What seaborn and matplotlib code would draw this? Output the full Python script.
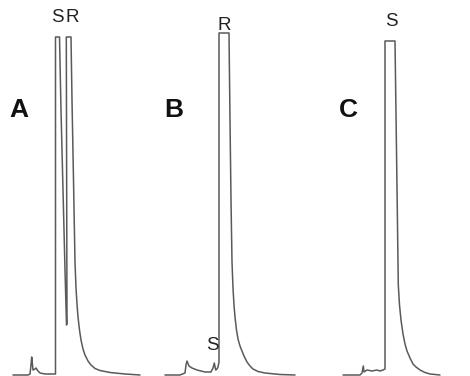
import matplotlib
matplotlib.use("Agg")
import matplotlib.pyplot as plt
import seaborn as sns
import pandas as pd

sns.set_theme(style="white")
plt.rcParams['font.family'] = ['Liberation Sans', 'DejaVu Sans']

# Chromatogram traces: retention position and recorder pen position (baseline at 375, read downward)
time_A = [13, 28, 30, 31, 31.7, 33, 35, 36, 38, 40, 45, 54, 55.5, 55.5, 59.5, 61, 63, 65, 66.5, 67, 66.3, 71,
          72, 73.5, 75, 76, 77, 78, 79.5, 81, 83, 85, 88, 91, 95, 100, 110, 125, 140]
level_A = [375, 375, 374, 365, 357, 370, 369, 368, 371, 373, 374, 374, 374, 37, 37, 110, 190, 270, 325, 323, 37, 37,
           100, 180, 262, 288, 304, 317, 330, 340, 349, 355, 361, 365, 368.5, 370.5, 372.5, 374, 375]

time_B = [165, 180, 185, 186, 187, 189, 192, 197, 205, 211, 213, 214.3, 215.7, 217, 218, 219, 219, 229,
          230, 231, 232, 233, 234, 235, 236.5, 238, 240, 242, 244, 247, 250, 253, 258, 265, 280, 295]
level_B = [375, 375, 373, 365, 361, 366, 368, 370, 372, 372, 368, 363, 370, 369, 367, 362, 33, 33,
           120, 200, 262, 288, 305, 317, 330, 339, 346, 351, 356, 362, 366, 369, 371.5, 373, 374.5, 375]

time_C = [343, 360, 362, 363.3, 364, 367, 372, 377, 380, 383, 385, 385, 395,
          396.5, 398.3, 399.5, 401, 403, 405, 407, 410, 413, 416, 420, 425, 430, 440]
level_C = [375, 375, 373, 366, 372, 370, 371, 370, 371, 370, 369, 41, 41,
           150, 285, 305, 320, 334, 344, 351, 358, 364, 367, 370, 372.5, 374, 375]

panel_labels = ["A", "B", "C"]
panel_label_x = [19, 174, 348.5]
peak_labels = ["S", "R", "R", "S", "S"]
peak_label_x = [57.5, 72.5, 224.5, 212.5, 391]
peak_label_y = [18, 18, 26, 345, 21]

fig = plt.figure(figsize=(4.7, 3.76), dpi=100)
ax = fig.add_axes([0, 0, 1, 1])

line_color = "#5a5a5a"
for t, lv in [(time_A, level_A), (time_B, level_B), (time_C, level_C)]:
    df = pd.DataFrame({"time": t, "signal": [375 - v for v in lv]})
    sns.lineplot(data=df, x="time", y="signal", sort=False, estimator=None,
                 color=line_color, linewidth=1.1, ax=ax)

for lab, x in zip(panel_labels, panel_label_x):
    ax.text(x, 375 - 110, lab, fontsize=19, fontweight="bold", ha="center", va="center", color="#111111")

for lab, x, y in zip(peak_labels, peak_label_x, peak_label_y):
    ax.text(x, 375 - y, lab, fontsize=13.5, ha="center", va="center", color="#222222")

ax.set_xlim(0, 470)
ax.set_ylim(-1, 375)
ax.axis("off")
fig.savefig("out.png", dpi=100, facecolor="white")
